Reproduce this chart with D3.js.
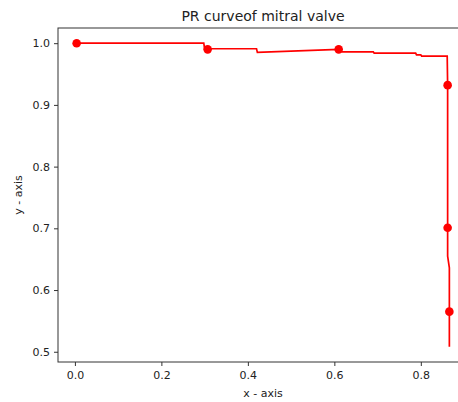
<!DOCTYPE html>
<html>
<head>
<meta charset="utf-8">
<script src="https://cdn.jsdelivr.net/npm/d3@7"></script>
<style>
  body { margin: 0; background: #fff; }
  text { font-family: "DejaVu Sans", sans-serif; fill: #222; }
</style>
</head>
<body>
<svg id="chart" width="458" height="402"></svg>
<script>
// PR curve (recall, precision)
var recall    = [0.004, 0.298, 0.300, 0.420, 0.422, 0.610, 0.618, 0.690, 0.692, 0.788, 0.790, 0.800, 0.802, 0.861, 0.862, 0.862, 0.862, 0.866, 0.866]
var precision = [1.000, 1.000, 0.991, 0.991, 0.985, 0.990, 0.986, 0.986, 0.984, 0.984, 0.981, 0.981, 0.979, 0.979, 0.932, 0.700, 0.655, 0.636, 0.508]
// marked points
var markRecall    = [0.004, 0.307, 0.610, 0.862, 0.862, 0.866]
var markPrecision = [1.000, 0.990, 0.990, 0.932, 0.701, 0.565]
var xTicks = [0.0, 0.2, 0.4, 0.6, 0.8]
var yTicks = [0.5, 0.6, 0.7, 0.8, 0.9, 1.0]

var svg = d3.select('#chart')
var plotL = 58, plotR = 468, plotT = 28, plotB = 362

// matplotlib style 5% margins
function padded(vals){
    var lo = d3.min(vals), hi = d3.max(vals), m = (hi - lo) * 0.05
    return [lo - m, hi + m]
}
var x = d3.scaleLinear().domain(padded(recall)).range([plotL, plotR])
var y = d3.scaleLinear().domain(padded(precision)).range([plotB, plotT])

var pts = recall.map(function(r, i){ return [r, precision[i]] })
svg.append('path')
    .datum(pts)
    .attr('d', d3.line().x(function(d){ return x(d[0]) }).y(function(d){ return y(d[1]) }))
    .attr('fill', 'none')
    .attr('stroke', '#f00')
    .attr('stroke-width', 1.7)

svg.selectAll('circle.mark')
    .data(markRecall)
    .enter().append('circle')
    .attr('class', 'mark')
    .attr('cx', function(d){ return x(d) })
    .attr('cy', function(d, i){ return y(markPrecision[i]) })
    .attr('r', 4.3)
    .attr('fill', '#f00')

// frame
svg.append('rect')
    .attr('x', plotL).attr('y', plotT)
    .attr('width', plotR - plotL).attr('height', plotB - plotT)
    .attr('fill', 'none').attr('stroke', '#333').attr('stroke-width', 1)

var xAxis = svg.append('g')
    .attr('transform', 'translate(0,' + plotB + ')')
    .call(d3.axisBottom(x).tickValues(xTicks).tickFormat(d3.format('.1f')).tickSizeOuter(0).tickSize(4).tickPadding(5))
var yAxis = svg.append('g')
    .attr('transform', 'translate(' + plotL + ',0)')
    .call(d3.axisLeft(y).tickValues(yTicks).tickFormat(d3.format('.1f')).tickSizeOuter(0).tickSize(4).tickPadding(4))

;[xAxis, yAxis].forEach(function(g){
    g.select('.domain').remove()
    g.selectAll('line').attr('stroke', '#333')
    g.selectAll('text').style('font-size', '11px').style('font-family', '"DejaVu Sans", sans-serif').attr('fill', '#222')
})

svg.append('text')
    .attr('x', (plotL + plotR) / 2).attr('y', 21)
    .attr('text-anchor', 'middle')
    .style('font-size', '14px')
    .text('PR curveof mitral valve')

svg.append('text')
    .attr('x', (plotL + plotR) / 2).attr('y', 397)
    .attr('text-anchor', 'middle')
    .style('font-size', '11px')
    .text('x - axis')

svg.append('text')
    .attr('transform', 'translate(22,' + (plotT + plotB) / 2 + ') rotate(-90)')
    .attr('text-anchor', 'middle')
    .style('font-size', '11px')
    .text('y - axis')
</script>
</body>
</html>
